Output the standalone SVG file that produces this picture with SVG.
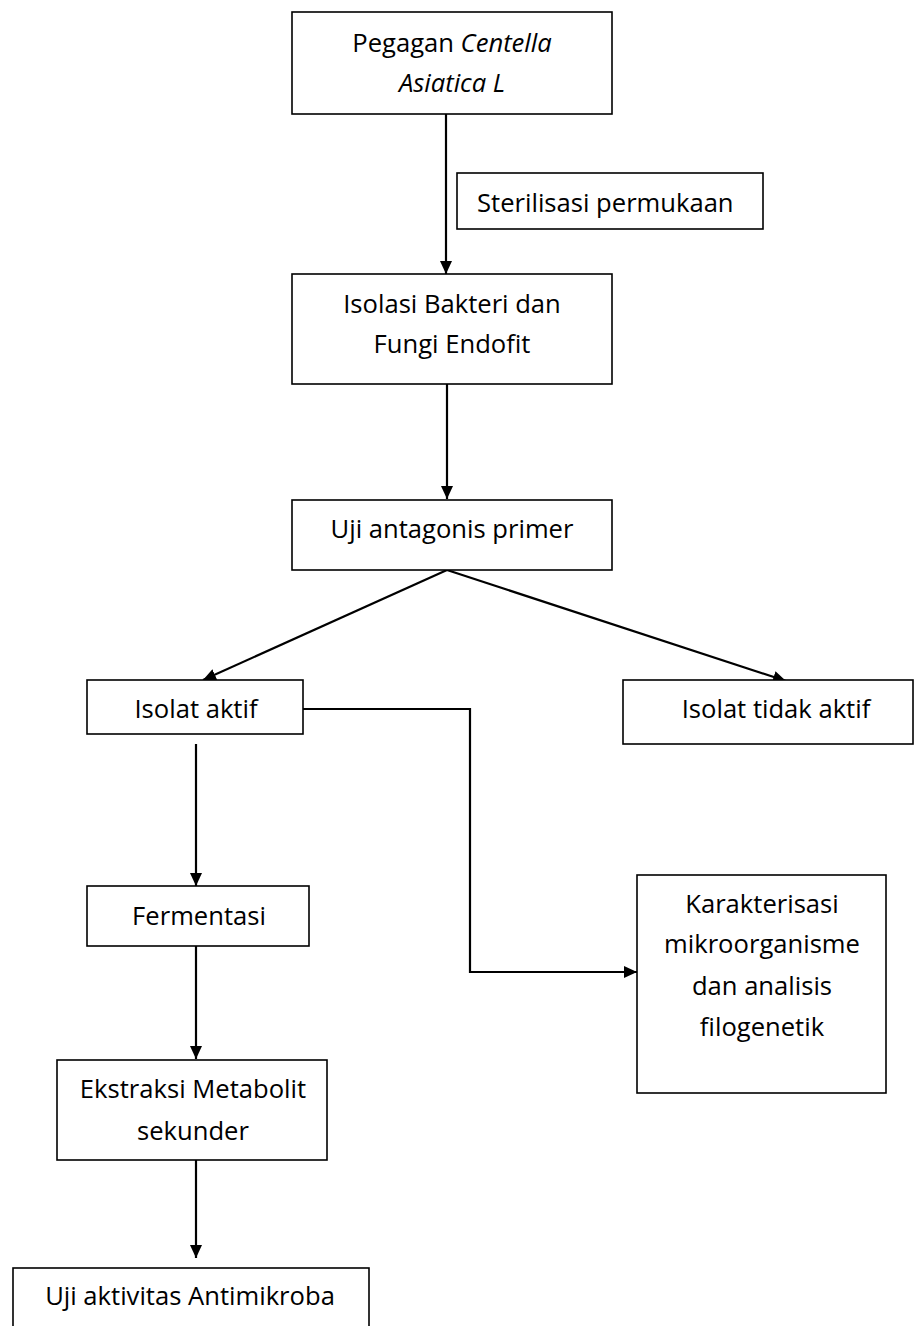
<svg xmlns="http://www.w3.org/2000/svg" width="915" height="1326" viewBox="0 0 915 1326">
<style>
.box{fill:#fff;stroke:#000;stroke-width:1.6}
.t{font-family:"Open Sans","Noto Sans","Liberation Sans",sans-serif;font-size:25.6px;fill:#000;text-anchor:middle}
.ts{font-family:"Open Sans","Noto Sans","Liberation Sans",sans-serif;font-size:25.6px;fill:#000;text-anchor:start}
.c{fill:none;stroke:#000;stroke-width:2.2}
</style>
<defs>
<marker id="ah" markerWidth="14" markerHeight="14" refX="13" refY="7" orient="auto" markerUnits="userSpaceOnUse">
<path d="M0,1 L13,7 L0,13 Z" fill="#000"/>
</marker>
</defs>
<rect width="915" height="1326" fill="#fff"/>
<g id="connectors">
<line class="c" x1="446" y1="114" x2="446" y2="274" marker-end="url(#ah)"/>
<line class="c" x1="447" y1="384" x2="447" y2="499" marker-end="url(#ah)"/>
<line class="c" x1="447" y1="570" x2="203" y2="680" marker-end="url(#ah)"/>
<line class="c" x1="447" y1="570" x2="786" y2="681" marker-end="url(#ah)"/>
<polyline class="c" points="303,709 470,709 470,972 637,972" marker-end="url(#ah)"/>
<line class="c" x1="196" y1="744" x2="196" y2="886" marker-end="url(#ah)"/>
<line class="c" x1="196" y1="946" x2="196" y2="1059" marker-end="url(#ah)"/>
<line class="c" x1="196" y1="1160" x2="196" y2="1258" marker-end="url(#ah)"/>
</g>
<g id="n1">
<rect class="box" x="292" y="12" width="320" height="102"/>
<text class="t" x="452" y="52">Pegagan <tspan font-style="italic">Centella</tspan></text>
<text class="t" x="452" y="92" font-style="italic">Asiatica L</text>
</g>
<g id="n2">
<rect class="box" x="457" y="173" width="306" height="56"/>
<text class="ts" x="477" y="212">Sterilisasi permukaan</text>
</g>
<g id="n3">
<rect class="box" x="292" y="274" width="320" height="110"/>
<text class="t" x="452" y="313">Isolasi Bakteri dan</text>
<text class="t" x="452" y="353">Fungi Endofit</text>
</g>
<g id="n4">
<rect class="box" x="292" y="500" width="320" height="70"/>
<text class="t" x="452" y="538">Uji antagonis primer</text>
</g>
<g id="n5">
<rect class="box" x="87" y="680" width="216" height="54"/>
<text class="t" x="196" y="718">Isolat aktif</text>
</g>
<g id="n6">
<rect class="box" x="623" y="680" width="290" height="64"/>
<text class="t" x="776" y="718">Isolat tidak aktif</text>
</g>
<g id="n7">
<rect class="box" x="637" y="875" width="249" height="218"/>
<text class="t" x="762" y="913">Karakterisasi</text>
<text class="t" x="762" y="953">mikroorganisme</text>
<text class="t" x="762" y="995">dan analisis</text>
<text class="t" x="762" y="1036">filogenetik</text>
</g>
<g id="n8">
<rect class="box" x="87" y="886" width="222" height="60"/>
<text class="t" x="199" y="925">Fermentasi</text>
</g>
<g id="n9">
<rect class="box" x="57" y="1060" width="270" height="100"/>
<text class="t" x="193" y="1098">Ekstraksi Metabolit</text>
<text class="t" x="193" y="1140">sekunder</text>
</g>
<g id="n10">
<rect class="box" x="13" y="1268" width="356" height="70"/>
<text class="t" x="190" y="1305">Uji aktivitas Antimikroba</text>
</g>
</svg>
